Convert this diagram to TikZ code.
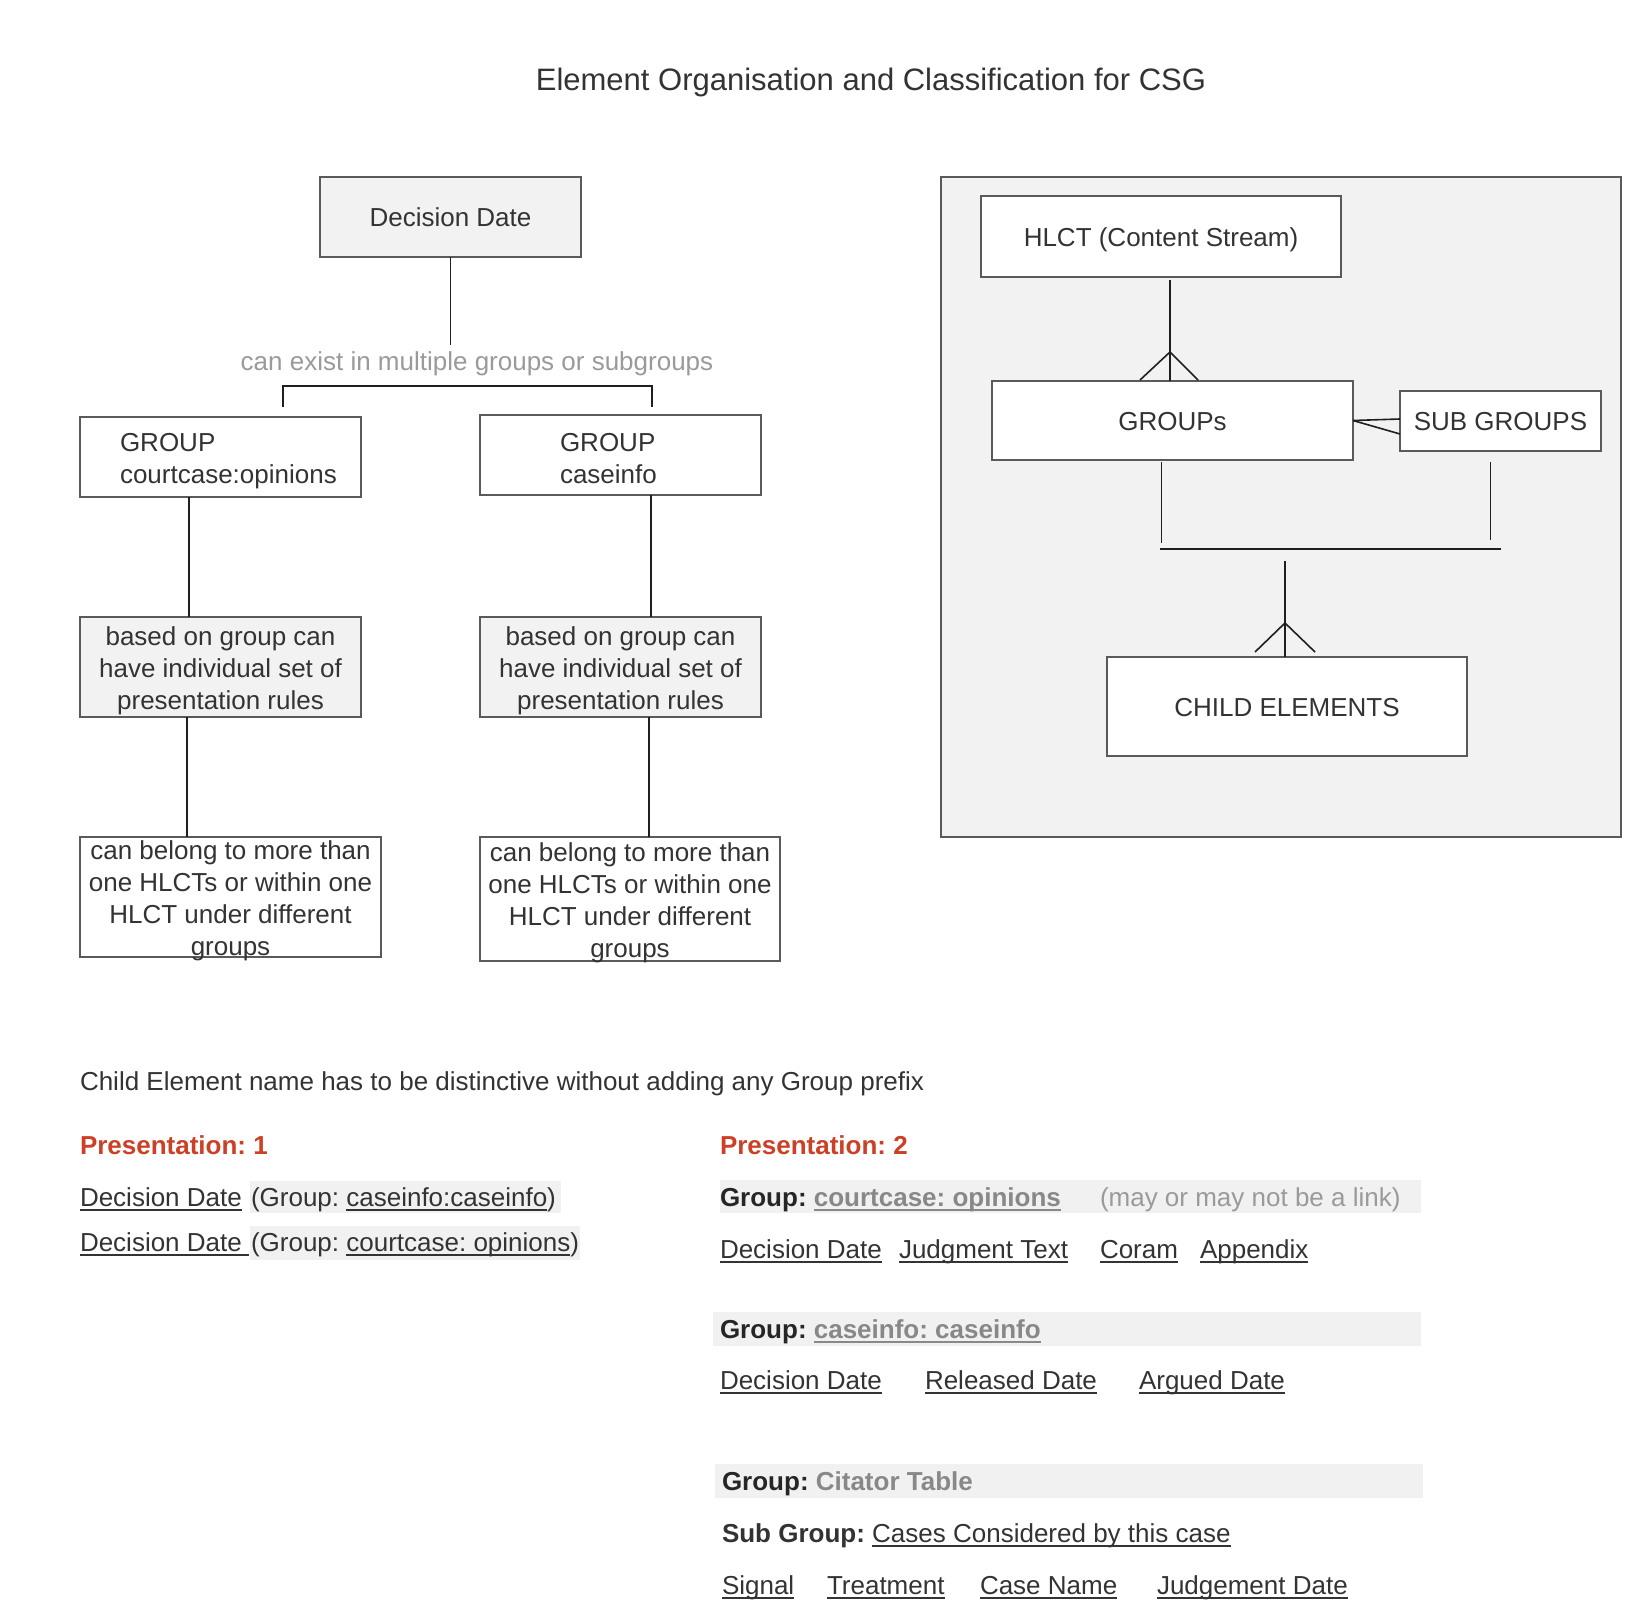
\documentclass[tikz,border=0pt]{standalone}
\usepackage{fontspec}
\setmainfont{Liberation Sans}
\frenchspacing
\usetikzlibrary{calc}
\definecolor{txt}{HTML}{333333}
\definecolor{boxfill}{HTML}{F2F2F2}
\definecolor{boxline}{HTML}{5A5A5A}
\definecolor{lbl}{HTML}{9A9A9A}
\definecolor{pres}{HTML}{CC4125}
\definecolor{band}{HTML}{F1F1F1}
\definecolor{lnk}{HTML}{888888}
\newcommand{\ulx}[1]{\leavevmode\setbox0=\hbox{#1}\rlap{\rule[-4.5pt]{\wd0}{1.6pt}}\box0}
\tikzset{
 base/.style={font=\fontsize{26pt}{32pt}\selectfont, text=txt},
 box/.style={base, draw=boxline, line width=1.3pt, inner sep=0pt, outer sep=0pt, align=center},
 gbox/.style={box, fill=boxfill},
 wbox/.style={box, fill=white},
 intext/.style={label={[base, align=center, inner sep=0pt, yshift=-4pt]center:{#1}}},
 conn/.style={draw=black!88, line width=1.6pt},
 txtnode/.style={base, inner sep=0pt, outer sep=0pt, anchor=base west},
}
\begin{document}
\begin{tikzpicture}[x=1pt,y=-1pt]
\fill[white] (0,0) rectangle (1636,1616);
\useasboundingbox (0,0) rectangle (1636,1616);

% title
\node[base, font=\fontsize{31pt}{36pt}\selectfont, anchor=base, inner sep=0pt] (title) at (871,91) {Element Organisation and Classification for CSG};

% ---------- left tree ----------
\node[gbox, minimum width=261pt, minimum height=80pt] (dd) at (450.5,217) {Decision Date};
\node[base, text=lbl, inner sep=0pt] (lab) at (477,364) {can exist in multiple groups or subgroups};
\node[wbox, minimum width=281pt, minimum height=80pt,
  label={[base, text width=281pt, align=left, inner sep=0pt, yshift=-4pt]center:{\hspace*{40pt}GROUP\\\hspace*{40pt}courtcase:opinions}}] (g1) at (220.5,457) {};
\node[wbox, minimum width=281pt, minimum height=80pt,
  label={[base, text width=281pt, align=left, inner sep=0pt, yshift=-4pt]center:{\hspace*{80pt}GROUP\\\hspace*{80pt}caseinfo}}] (g2) at (620.5,455) {};
\node[gbox, minimum width=281pt, minimum height=100pt,
  intext={based on group can\\have individual set of\\presentation rules}] (pr1) at (220.5,667) {};
\node[gbox, minimum width=281pt, minimum height=100pt,
  intext={based on group can\\have individual set of\\presentation rules}] (pr2) at (620.5,667) {};
\node[wbox, minimum width=301pt, minimum height=120pt,
  intext={can belong to more than\\one HLCTs or within one\\HLCT under different\\groups}] (cb1) at (230.5,897) {};
\node[wbox, minimum width=300pt, minimum height=124pt,
  intext={can belong to more than\\one HLCTs or within one\\HLCT under different\\groups}] (cb2) at (630,899) {};

\draw[conn] (dd.south) -- ++(0,88);
\coordinate (bl) at (283,407);
\coordinate (br) at (652,407);
\draw[conn] (bl) -- ++(0,-21) -| (br);
\draw[conn] ([xshift=-31.5pt]g1.south) -- ([xshift=-31.5pt]g1.south |- pr1.north);
\draw[conn] ([xshift=-33.5pt]pr1.south) -- ([xshift=-33.5pt]pr1.south |- cb1.north);
\draw[conn] ([xshift=30.5pt]g2.south) -- ([xshift=30.5pt]g2.south |- pr2.north);
\draw[conn] ([xshift=28.5pt]pr2.south) -- ([xshift=28.5pt]pr2.south |- cb2.north);

% ---------- right panel ----------
\node[gbox, minimum width=680pt, minimum height=660pt] (frame) at (1281,507) {};
\node[wbox, minimum width=360pt, minimum height=81pt,
  label={[base, inner sep=0pt, yshift=-3pt]center:HLCT (Content Stream)}] (hlct) at (1161,236.5) {};
\node[wbox, minimum width=361pt, minimum height=79pt,
  label={[base, inner sep=0pt, yshift=-1pt]center:GROUPs}] (groups) at (1172.5,420.5) {};
\node[wbox, minimum width=201pt, minimum height=60pt,
  label={[base, inner sep=0pt, yshift=-1pt]center:SUB GROUPS}] (sub) at (1500.5,421) {};
\node[wbox, minimum width=360pt, minimum height=99pt,
  label={[base, inner sep=0pt, yshift=-1pt]center:CHILD ELEMENTS}] (child) at (1287,706.5) {};

\draw[conn] ([xshift=9pt,yshift=-3pt]hlct.south) -- ([xshift=9pt]hlct.south |- groups.north);
\coordinate (a1) at ([xshift=9pt]hlct.south |- groups.north);
\draw[conn] (a1) ++(-30,-1) -- ++(30,-28) -- ++(28,28);
\draw[conn] (groups.east) -- ([yshift=2pt]sub.west);
\draw[conn] (groups.east) -- ([yshift=-13pt]sub.west);
\draw[conn] ([xshift=-11pt,yshift=-2pt]groups.south) -- ++(0,81);
\draw[conn] ([xshift=-10pt,yshift=-11pt]sub.south) -- ++(0,78);
\coordinate (bar1) at (1160,549);
\coordinate (bar2) at (1501,549);
\draw[conn] (bar1) -- (bar2);
\draw[conn] ([xshift=-2pt]child.north) -- ++(0,-96);
\draw[conn] ([xshift=-32pt,yshift=5pt]child.north) -- ++(30,-29) -- ++(30,29);

% ---------- bottom text ----------
\node[txtnode] (note) at (80,1090) {Child Element name has to be distinctive without adding any Group prefix};
\node[txtnode, text=pres, font=\fontsize{26pt}{32pt}\selectfont\bfseries] (p1) at (80,1154) {Presentation: 1};
\node[txtnode, text=pres, font=\fontsize{26pt}{32pt}\selectfont\bfseries] (p2) at (720,1154) {Presentation: 2};

\fill[band] (250,1181) rectangle (561,1213);
\fill[band] (250,1226) rectangle (580,1260);
\node[txtnode] (r1a) at (80,1206) {\ulx{Decision Date}};
\node[txtnode] (r1b) at (251,1206) {(Group: \ulx{caseinfo:caseinfo})};
\node[txtnode] (r2a) at (80,1251) {\ulx{Decision Date\ }};
\node[txtnode] (r2b) at (251,1251) {(Group: \ulx{courtcase: opinions})};

\fill[band] (720,1180) rectangle (1421,1213);
\node[txtnode, text=black!85] (b1) at (720,1206) {\textbf{Group:} \textcolor{lnk}{\textbf{\ulx{courtcase: opinions}}}};
\node[txtnode, text=lbl] (b1n) at (1100,1206) {(may or may not be a link)};
\node[txtnode] (c1) at (720,1258) {\ulx{Decision Date}};
\node[txtnode] (c2) at (899,1258) {\ulx{Judgment Text}};
\node[txtnode] (c3) at (1100,1258) {\ulx{Coram}};
\node[txtnode] (c4) at (1200,1258) {\ulx{Appendix}};

\fill[band] (713,1312) rectangle (1421,1346);
\node[txtnode, text=black!85] (b2) at (720,1338) {\textbf{Group:} \textcolor{lnk}{\textbf{\ulx{caseinfo: caseinfo}}}};
\node[txtnode] (d1) at (720,1389) {\ulx{Decision Date}};
\node[txtnode] (d2) at (925,1389) {\ulx{Released Date}};
\node[txtnode] (d3) at (1139,1389) {\ulx{Argued Date}};

\fill[band] (715,1464) rectangle (1423,1498);
\node[txtnode, text=black!85] (b3) at (722,1490) {\textbf{Group:} \textcolor{lnk}{\textbf{Citator Table}}};
\node[txtnode] (sg) at (722,1542) {\textbf{Sub Group:} \ulx{Cases Considered by this case}};
\node[txtnode] (e1) at (722,1594) {\ulx{Signal}};
\node[txtnode] (e2) at (827,1594) {\ulx{Treatment}};
\node[txtnode] (e3) at (980,1594) {\ulx{Case Name}};
\node[txtnode] (e4) at (1157,1594) {\ulx{Judgement Date}};
\end{tikzpicture}
\end{document}
